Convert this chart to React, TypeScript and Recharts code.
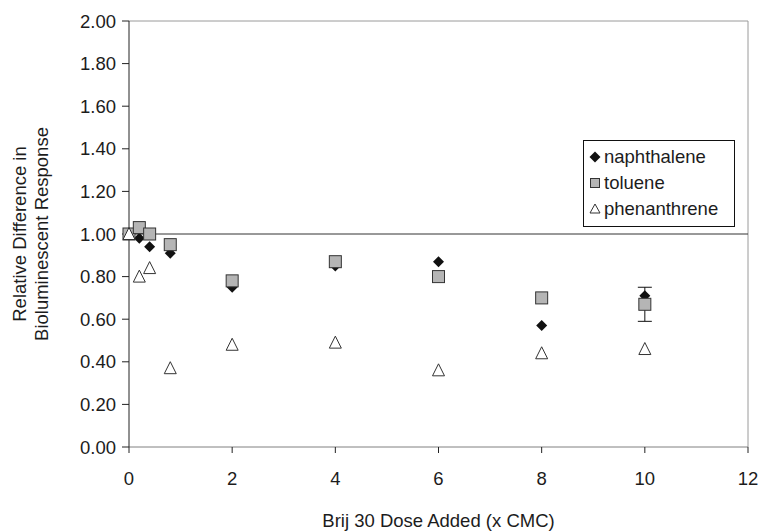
import React from 'react';
import {
  ScatterChart,
  Scatter,
  XAxis,
  YAxis,
  ReferenceLine,
  ErrorBar,
} from 'recharts';

const doses = [0, 0.2, 0.4, 0.8, 2, 4, 6, 8, 10];
const naphthalene = [1.0, 0.98, 0.94, 0.91, 0.75, 0.85, 0.87, 0.57, 0.71];
const toluene = [1.0, 1.03, 1.0, 0.95, 0.78, 0.87, 0.8, 0.7, 0.67];
const tolueneErr = [0, 0, 0, 0, 0, 0, 0, 0, 0.08];
const phenanthrene = [1.0, 0.8, 0.84, 0.37, 0.48, 0.49, 0.36, 0.44, 0.46];

const xTicks = [0, 2, 4, 6, 8, 10, 12];
const yTicks = [0, 0.2, 0.4, 0.6, 0.8, 1.0, 1.2, 1.4, 1.6, 1.8, 2.0];

const seriesNames = ['naphthalene', 'toluene', 'phenanthrene'];

const toPoints = (ys: number[], errs?: number[]) =>
  doses.map((x, i) => ({ x, y: ys[i], err: errs ? errs[i] : 0 }));

const FONT = 'Liberation Sans, Arial, sans-serif';
const TEXT = '#1c1c1c';
const FS = 18.5;

const Diamond = (props: any) => {
  const { cx, cy } = props;
  const r = 5.5;
  return (
    <polygon
      points={`${cx},${cy - r} ${cx + r},${cy} ${cx},${cy + r} ${cx - r},${cy}`}
      fill="#111"
    />
  );
};

const Square = (props: any) => {
  const { cx, cy } = props;
  const s = 12;
  return (
    <rect x={cx - s / 2} y={cy - s / 2} width={s} height={s} fill="#b5b5b5" stroke="#333" strokeWidth={1} />
  );
};

const Triangle = (props: any) => {
  const { cx, cy } = props;
  const w = 12;
  const h = 11;
  return (
    <polygon
      points={`${cx},${cy - h / 2 - 1} ${cx + w / 2},${cy + h / 2} ${cx - w / 2},${cy + h / 2}`}
      fill="#fff"
      stroke="#333"
      strokeWidth={1}
    />
  );
};

const legendMarks = [
  (x: number, y: number) => <Diamond cx={x} cy={y} />,
  (x: number, y: number) => <rect x={x - 4.5} y={y - 4.5} width={9} height={9} fill="#b5b5b5" stroke="#333" />,
  (x: number, y: number) => (
    <polygon points={`${x},${y - 5} ${x + 5},${y + 4} ${x - 5},${y + 4}`} fill="#fff" stroke="#333" />
  ),
];

const LegendBox = () => (
  <div
    style={{
      position: 'absolute',
      left: 583,
      top: 140,
      width: 152,
      boxSizing: 'border-box',
      border: '1px solid #111',
      background: '#fff',
      padding: '3px 4px 4px 5px',
      fontFamily: FONT,
      fontSize: FS,
      color: TEXT,
    }}
  >
    {seriesNames.map((name, i) => (
      <div key={name} style={{ display: 'flex', alignItems: 'center', height: 26 }}>
        <svg width={12} height={14} style={{ marginRight: 3 }}>
          {legendMarks[i](6, 7)}
        </svg>
        <span>{name}</span>
      </div>
    ))}
  </div>
);

const YTitle = () => (
  <g fontFamily={FONT} fontSize={FS} fill={TEXT}>
    <text x={21} y={234} textAnchor="middle" transform="rotate(-90 21 234)" dominantBaseline="middle">
      Relative Difference in
    </text>
    <text x={43} y={234} textAnchor="middle" transform="rotate(-90 43 234)" dominantBaseline="middle">
      Bioluminescent Response
    </text>
  </g>
);

export default function App() {
  return (
    <div style={{ position: 'absolute', left: 0, top: 0, width: 764, height: 532, background: '#fff' }}>
      <ScatterChart width={764} height={532} margin={{ top: 21, right: 16, bottom: 55, left: 0 }}>
        <XAxis
          type="number"
          dataKey="x"
          domain={[0, 12]}
          ticks={xTicks}
          height={30}
          stroke="#808080"
          tickLine={{ stroke: '#222' }}
          tickSize={6}
          tick={{ fill: TEXT, fontSize: FS, fontFamily: FONT }}
          tickMargin={19}
          label={{
            value: 'Brij 30 Dose Added (x CMC)',
            position: 'insideBottom',
            offset: -50,
            fill: TEXT,
            fontSize: FS,
            fontFamily: FONT,
          }}
        />
        <YAxis
          type="number"
          dataKey="y"
          domain={[0, 2]}
          ticks={yTicks}
          width={129}
          stroke="#222"
          tickSize={7}
          tickFormatter={(v: number) => v.toFixed(2)}
          tick={{ fill: TEXT, fontSize: FS, fontFamily: FONT }}
          tickMargin={6}
          label={<YTitle />}
        />
        <ReferenceLine y={2} stroke="#9a9a9a" />
        <ReferenceLine x={12} stroke="#9a9a9a" />
        <ReferenceLine y={1} stroke="#333" strokeWidth={1} />
        <Scatter
          name="naphthalene"
          data={toPoints(naphthalene)}
          shape={<Diamond />}
          isAnimationActive={false}
        />
        <Scatter
          name="toluene"
          data={toPoints(toluene, tolueneErr)}
          shape={<Square />}
          isAnimationActive={false}
        >
          <ErrorBar dataKey="err" direction="y" width={7} stroke="#111" strokeWidth={1} />
        </Scatter>
        <Scatter
          name="phenanthrene"
          data={toPoints(phenanthrene)}
          shape={<Triangle />}
          isAnimationActive={false}
        />
      </ScatterChart>
      <LegendBox />
    </div>
  );
}
